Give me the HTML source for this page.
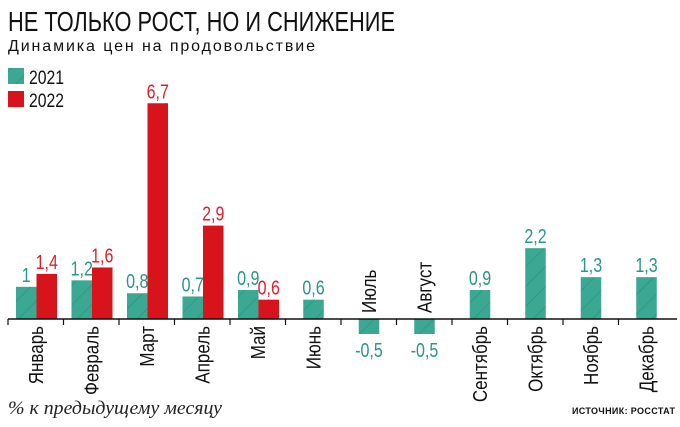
<!DOCTYPE html>
<html><head><meta charset="utf-8"><style>
html,body{margin:0;padding:0;background:#fff;}
svg{display:block;font-family:"Liberation Sans",sans-serif;}
</style></head><body>
<svg width="680" height="427" viewBox="0 0 680 427" xmlns="http://www.w3.org/2000/svg">
<defs>
<pattern id="h" patternUnits="userSpaceOnUse" width="14" height="14" patternTransform="rotate(-45)">
<rect width="14" height="14" fill="#3aa892"/>
<line x1="0" y1="0" x2="14" y2="0" stroke="#2e8f7b" stroke-width="1.2"/>
</pattern>
</defs>
<text x="8" y="31" font-size="28" textLength="387" lengthAdjust="spacingAndGlyphs" fill="#111">НЕ ТОЛЬКО РОСТ, НО И СНИЖЕНИЕ</text>
<text x="8" y="51" font-size="16" textLength="307" lengthAdjust="spacing" fill="#111">Динамика цен на продовольствие</text>
<rect x="8" y="68" width="16" height="16" fill="url(#h)"/>
<rect x="8" y="91" width="16" height="16" fill="#d7141c"/>
<text x="29" y="84" font-size="19" fill="#111" textLength="35" lengthAdjust="spacingAndGlyphs">2021</text>
<text x="29" y="107" font-size="19" fill="#111" textLength="35" lengthAdjust="spacingAndGlyphs">2022</text>
<g id="bars"></g>
<line x1="8" y1="319" x2="677" y2="319" stroke="#111" stroke-width="1.5"/>
<text x="8" y="414" font-size="19" font-style="italic" font-family="Liberation Serif,serif" fill="#222" textLength="214" lengthAdjust="spacingAndGlyphs">% к предыдущему месяцу</text>
<text x="572" y="414" font-size="9" font-weight="bold" fill="#111" textLength="103" lengthAdjust="spacing">ИСТОЧНИК: РОССТАТ</text>
<script>
const g=document.getElementById('bars');
const m=["Январь","Февраль","Март","Апрель","Май","Июнь","Июль","Август","Сентябрь","Октябрь","Ноябрь","Декабрь"];
const a=[1,1.2,0.8,0.7,0.9,0.6,-0.5,-0.5,0.9,2.2,1.3,1.3];
const b=[1.4,1.6,6.7,2.9,0.6];
const s=32.2,ay=319,ns="http://www.w3.org/2000/svg";
function el(t,at,txt){const e=document.createElementNS(ns,t);for(const k in at)e.setAttribute(k,at[k]);if(txt!==undefined)e.textContent=txt;g.appendChild(e);return e;}
function fmt(v){return String(v).replace('.',',');}
for(let i=0;i<12;i++){
 const x0=8+55.5*i;
 el('line',{x1:x0,y1:ay,x2:x0,y2:ay+6,stroke:'#111','stroke-width':1.2});
 const pair=i<5;
 const gx=pair?x0+8:x0+17.75;
 const v=a[i];
 const hgt=v>0?v*s:15;
 const y=v>0?ay-hgt:ay;
 el('rect',{x:gx,y:y,width:20.5,height:hgt,fill:'url(#h)'});
 const lx=gx+10.25;
 el('text',{x:0,y:0,'font-size':20,'text-anchor':'middle',fill:'#2a958a',transform:`translate(${lx} ${v>0?y-5:ay+38}) scale(0.8 1)`},fmt(v));
 if(pair){
  const rx=gx+20.5,rh=b[i]*s;
  el('rect',{x:rx,y:ay-rh,width:20.5,height:rh,fill:'#d7141c'});
  const rl=rx+10.25;
  el('text',{x:0,y:0,'font-size':20,'text-anchor':'middle',fill:'#e0202c',transform:`translate(${rl} ${ay-rh-5}) scale(0.8 1)`},fmt(b[i]));
 }
 const cx=x0+27.75+7;
 if(v>0){
  el('text',{x:0,y:0,'font-size':20,'text-anchor':'end',fill:'#111',transform:`translate(${cx} 326) rotate(-90) scale(0.85 1)`},m[i]);
 } else {
  el('text',{x:0,y:0,'font-size':20,'text-anchor':'start',fill:'#111',transform:`translate(${cx} 313) rotate(-90) scale(0.85 1)`},m[i]);
 }
}
</script>
</svg>
</body></html>
